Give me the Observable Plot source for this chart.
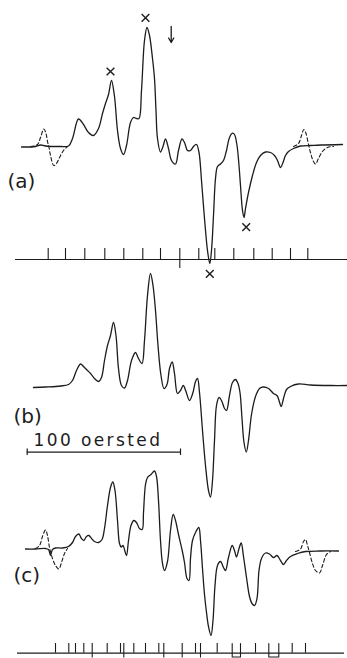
<!DOCTYPE html>
<html>
<head>
<meta charset="utf-8">
<script src="https://cdn.jsdelivr.net/npm/d3@7"></script>
<script src="https://cdn.jsdelivr.net/npm/@observablehq/plot@0.6"></script>
<style>
  html, body { margin: 0; padding: 0; background: #fff; }
  #chart svg { display: block; }
</style>
</head>
<body>
<div id="chart"></div>
<script>
// ---- Data (field in arbitrary field units, signal amplitude, baseline = 0) ----
const aField = [21,35,40,45,60,68,72,78,83,88,93,98,102,105,108,111,114,117,120,123,126,130,133,136,138.5,141,144,146.5,149,152,154,155.5,157,160,162.5,165,168,171,175,178,181.5,184,187,190,193,196,198.5,201,204,207,209.3,211,213,215,217,220,223,226,229,232,234,236.5,238.5,240,242,243.5,245,248,252,256,260,265,270,274,277,280,282.5,285,288,293,300,310,320,342];
const aSignal = [-0.5,0,1.5,0.5,0,0.5,8,27.5,22,14,11,18,33,43,52,66,50,16,-2,-8,1,24,29,28,28,56,106,119,111,88,68,36,8,-5.5,0,7.5,-2,-14,-17.5,-4,7.5,4,-4,-4,0,2,-6,-34,-72,-104,-117,-104,-69,-32,-20,-17.5,-14,-4,9,13.3,12,1,-19,-39,-64,-71,-62,-46,-29,-16,-9,-5.5,-6,-9,-14,-21,-16,-9,-5,-2,0.5,1,1.5,2];
const aDashLField = [30,37,40,43.3,45.5,47,48.5,50,53.3,56,59,63,67];
const aDashLSignal = [0,2,9,17.5,13,5,-1,-9,-19,-17,-11,-4,0];
const aDashRField = [293,298,301,303.3,305.5,308,310,312.5,315,318,322,327,333];
const aDashRSignal = [0,3,11,17,13,2,-6,-14,-17.5,-12,-5,-1,0];

const bField = [33,45,60,68,72,76,80,83,86.5,90,94,98,101,104,107,110,113,115.5,118,121,124,127,131,135,138,141.5,144,147,150,152.5,155,157.5,160.5,163.5,166.5,169,171.7,174,177,180,182.7,185.5,189,192.5,195,197,199,202,205,208,210,212,214,216,218.5,221,224,226,229,232,235,237.5,239.5,241.5,243.5,245.8,248,251,255,259,263,268,273,276.5,278.5,280.7,283,286,290,298,310,330,347];
const bSignal = [-1,-0.5,0.5,2,6,16,22.5,20,16.5,13,8,5,9,26,41,51,64,51,18,1,-1.5,6,26,34,28,23,46,91,113,101,76,41,11,-2,2,18,24.5,13,-7,-4,1,-5,-14,-6,5,8,-6,-44,-79,-104,-110.5,-94,-54,-19,-11,-14,-22,-24,-9,4,7,3,-6,-32,-56,-65.5,-54,-28,-10,-2,-0.5,-2,-7,-9,-14,-20,-12,-3,0,2.5,1.5,1,1];

const cField = [25,35,45,48,50,52,55,62,68,72,75,78.3,81,83.3,86,88.3,91,94,98,101.5,104,107,110,112.3,114.5,117,119,120.7,122.5,124.5,126,128,130.5,133.3,136,139,141.7,143,145,147,150.5,154,156,158,160,162,164,167,170,172.7,175,178,181.7,184,186.5,188.5,190,192,195,198.3,200,202,204,206,208,210.5,212.5,214.5,217,220,223,225,228,231.7,234,236,238.5,240.7,243,246,249,251.5,254,256.5,258.5,261,265,269,273,276.5,280,283,286,290,297,305,320,338];
const cSignal = [-0.5,-0.5,0,-1,-7,-1,0.5,0.5,2,6,12,14.5,10,8,12,13,10,7,6,9,20,43,61,66.5,58,28,5,1.5,3,-3,-7,8,23,28,26,20,19,36,64,71,74,77.5,72,48,8,-15,-22,-13,18,34,28,14,-2,-14,-30,-32,-10,8,16,21,8,-20,-46,-64,-78,-87,-72,-37,-17,-13,-19,-22,-9,3,-2,-8.5,0,5.5,-8,-29,-48,-55,-57,-50,-22,-10,-4.5,-5.5,-9,-7,-12,-16,-12,-8,-5,-3,-2.5,-2.5];
const cDashLField = [35,39,42,45,47,49,52,55,58.3,61,64,67];
const cDashLSignal = [0,3,12,18.5,13,1,-10,-17,-20.5,-14,-5,0];
const cDashRField = [295,300,303,305,307,309,312,315,319,322,326,330];
const cDashRSignal = [-3,-0.5,7,9,3,-4,-15,-22,-24.5,-17,-6,-3];

// markers (×) on spectrum (a)
const markField = [145,110,245.7,209.3];
const markSignal = [128.7,75,-80.7,-127.3];

// field reference ticks
const topTicks = [47.7,65,84.3,104.3,123.3,142.3,160,198.3,214.3,233.3,253.3,271.7,290,307.3];
const topCenterTick = [179.3];
const bottomTicks = [55,68.3,75,83.3,106.7,120,133.3,145,158.3,195,216.7,255,291.7,305];
const bottomCrossTicks = [91.7,123.3,163.3,181.7,200];
const bottomUs = [[231.7,240],[268.3,278.3]];

const labels = ["(a)", "(b)", "(c)"];
const scaleLabel = "100 oersted";
const scaleBar = [26.7, 180];
const arrowField = 170.7;

// ---- layout (pixel rows of each panel baseline) ----
const W = 347, H = 658;
const baseA = 146, baseB = 386, baseC = 548;
const toPts = (fs, ss, base) => fs.map((f, i) => [f, base - ss[i]]);

const ink = "#1c1c1c";
const lw = 1.3;
const font = "DejaVu Sans, sans-serif";

const chart = Plot.plot({
  width: W, height: H,
  margin: 0,
  x: {domain: [0, W], range: [0, W], axis: null},
  y: {domain: [0, H], range: [0, H], axis: null},
  style: {background: "#fff", overflow: "visible"},
  marks: [
    // spectrum (a)
    Plot.line(toPts(aField, aSignal, baseA), {curve: "catmull-rom", stroke: ink, strokeWidth: lw}),
    Plot.line(toPts(aDashLField, aDashLSignal, baseA), {curve: "catmull-rom", stroke: ink, strokeWidth: 1.1, strokeDasharray: "3.5,2.5"}),
    Plot.line(toPts(aDashRField, aDashRSignal, baseA), {curve: "catmull-rom", stroke: ink, strokeWidth: 1.1, strokeDasharray: "3.5,2.5"}),
    Plot.dot(toPts(markField, markSignal, baseA), {symbol: "times", r: 3.6, stroke: ink, strokeWidth: 1.4}),
    Plot.arrow([{x: arrowField, y1: baseA - 120, y2: baseA - 104}], {x: "x", y1: "y1", y2: "y2", stroke: ink, strokeWidth: 1.3, headLength: 6}),
    // top reference axis
    Plot.ruleY([259], {x1: 15, x2: W, stroke: ink, strokeWidth: 1.2}),
    Plot.ruleX(topTicks, {y1: 248, y2: 259, stroke: ink, strokeWidth: 1.1}),
    Plot.ruleX(topCenterTick, {y1: 248, y2: 268, stroke: ink, strokeWidth: 1.1}),
    // spectrum (b)
    Plot.line(toPts(bField, bSignal, baseB), {curve: "catmull-rom", stroke: ink, strokeWidth: lw}),
    // scale bar
    Plot.ruleY([451.7], {x1: scaleBar[0], x2: scaleBar[1], stroke: ink, strokeWidth: 1.2}),
    Plot.ruleX(scaleBar, {y1: 448.5, y2: 455, stroke: ink, strokeWidth: 1.2}),
    Plot.text([scaleLabel], {x: 33, y: 440, text: d => d, textAnchor: "start", fontSize: 17, fontFamily: font, fill: ink}),
    // spectrum (c)
    Plot.line(toPts(cField, cSignal, baseC), {curve: "catmull-rom", stroke: ink, strokeWidth: lw}),
    Plot.line(toPts(cDashLField, cDashLSignal, baseC), {curve: "catmull-rom", stroke: ink, strokeWidth: 1.1, strokeDasharray: "3.5,2.5"}),
    Plot.line(toPts(cDashRField, cDashRSignal, baseC), {curve: "catmull-rom", stroke: ink, strokeWidth: 1.1, strokeDasharray: "3.5,2.5"}),
    // bottom reference axis
    Plot.ruleY([652.7], {x1: 17, x2: 344, stroke: ink, strokeWidth: 1.2}),
    Plot.ruleX(bottomTicks, {y1: 643, y2: 652.7, stroke: ink, strokeWidth: 1.1}),
    Plot.ruleX(bottomCrossTicks, {y1: 643, y2: 657.5, stroke: ink, strokeWidth: 1.1}),
    Plot.line(bottomUs.flatMap(([l, r], i) => [[l, 643, i], [l, 656.5, i], [r, 656.5, i], [r, 643, i]]), {x: d => d[0], y: d => d[1], z: d => d[2], stroke: ink, strokeWidth: 1.1}),
    // panel labels
    Plot.text(labels, {x: [7, 13, 13], y: [181.5, 416.5, 575], text: d => d, textAnchor: "start", fontSize: 20, fontFamily: font, fill: ink})
  ]
});
d3.select(chart).selectAll("text").filter(function () { return this.textContent === scaleLabel; })
  .attr("letter-spacing", "2.4px");
document.getElementById("chart").appendChild(chart);
</script>
</body>
</html>
